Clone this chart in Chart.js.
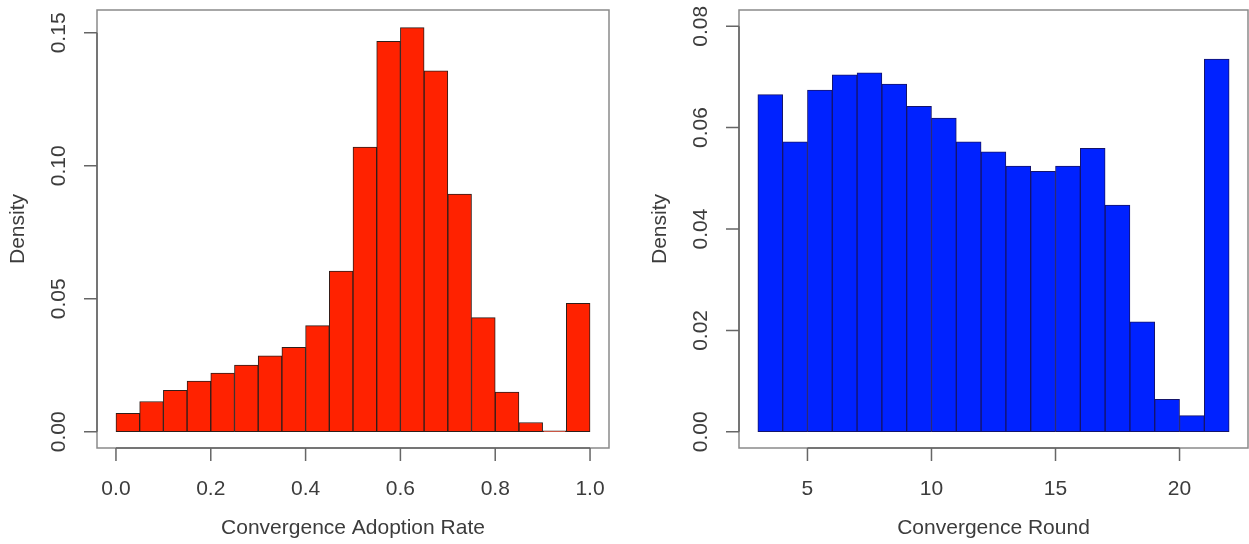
<!DOCTYPE html>
<html>
<head>
<meta charset="utf-8">
<script src="https://cdn.jsdelivr.net/npm/chart.js@4.4.1/dist/chart.umd.min.js"></script>
<style>
  html, body { margin: 0; padding: 0; background: #fff; }
  #wrap { position: relative; width: 1249px; height: 544px; overflow: hidden; }
  canvas { position: absolute; top: 0; }
  #leftChart { left: 0; }
  #rightChart { left: 624px; }
</style>
</head>
<body>
<div id="wrap">
  <canvas id="leftChart" width="624" height="544"></canvas>
  <canvas id="rightChart" width="625" height="544"></canvas>
</div>
<script>
// left histogram: adoption rate, bins of 0.05
const adoptionBinStart = [0.00, 0.05, 0.10, 0.15, 0.20, 0.25, 0.30, 0.35, 0.40, 0.45,
                          0.50, 0.55, 0.60, 0.65, 0.70, 0.75, 0.80, 0.85, 0.90, 0.95];
const adoptionDensity = [0.0069, 0.0114, 0.0156, 0.0191, 0.0221, 0.0251, 0.0286, 0.0318, 0.0399, 0.0604,
                         0.1071, 0.1468, 0.1520, 0.1357, 0.0894, 0.0429, 0.0149, 0.0035, 0.0004, 0.0483];
const adoptionXTicks = [0, 0.2, 0.4, 0.6, 0.8, 1.0];
const adoptionXLabels = ['0.0', '0.2', '0.4', '0.6', '0.8', '1.0'];
const adoptionYTicks = [0, 0.05, 0.10, 0.15];
const adoptionYLabels = ['0.00', '0.05', '0.10', '0.15'];

// right histogram: convergence round, bins of 1
const roundBinStart = [3, 4, 5, 6, 7, 8, 9, 10, 11, 12, 13, 14, 15, 16, 17, 18, 19, 20, 21];
const roundDensity = [0.0665, 0.0572, 0.0674, 0.0704, 0.0708, 0.0686, 0.0642, 0.0619, 0.0572, 0.0552,
                      0.0524, 0.0514, 0.0524, 0.0559, 0.0447, 0.0217, 0.0064, 0.0032, 0.0735];
const roundXTicks = [5, 10, 15, 20];
const roundXLabels = ['5', '10', '15', '20'];
const roundYTicks = [0, 0.02, 0.04, 0.06, 0.08];
const roundYLabels = ['0.00', '0.02', '0.04', '0.06', '0.08'];

const FONT = '21px "Liberation Sans", Arial, sans-serif';
const TEXT_COLOR = '#3c3c3c';

// R-style box + axes drawn from the chart's own scales
const rAxes = {
  id: 'rAxes',
  afterDraw(chart, args, opts) {
    const ctx = chart.ctx;
    const area = chart.chartArea;
    const xs = chart.scales.x;
    const ys = chart.scales.y;
    ctx.save();
    ctx.strokeStyle = '#8a8a8a';
    ctx.lineWidth = 1.5;
    ctx.strokeRect(area.left, area.top, area.right - area.left, area.bottom - area.top);

    ctx.strokeStyle = '#666';
    ctx.lineWidth = 1.5;
    ctx.fillStyle = TEXT_COLOR;
    ctx.font = FONT;
    ctx.textAlign = 'center';
    ctx.textBaseline = 'middle';

    // x axis
    const x0 = xs.getPixelForValue(opts.xTicks[0]);
    const x1 = xs.getPixelForValue(opts.xTicks[opts.xTicks.length - 1]);
    ctx.beginPath();
    ctx.moveTo(x0, area.bottom);
    ctx.lineTo(x1, area.bottom);
    opts.xTicks.forEach((v) => {
      const px = xs.getPixelForValue(v);
      ctx.moveTo(px, area.bottom);
      ctx.lineTo(px, area.bottom + 13);
    });
    ctx.stroke();
    opts.xTicks.forEach((v, i) => {
      ctx.fillText(opts.xLabels[i], xs.getPixelForValue(v), area.bottom + 41);
    });
    ctx.fillText(opts.xTitle, (area.left + area.right) / 2, area.bottom + 80);

    // y axis
    const y0 = ys.getPixelForValue(opts.yTicks[0]);
    const y1 = ys.getPixelForValue(opts.yTicks[opts.yTicks.length - 1]);
    ctx.beginPath();
    ctx.moveTo(area.left, y0);
    ctx.lineTo(area.left, y1);
    opts.yTicks.forEach((v) => {
      const py = ys.getPixelForValue(v);
      ctx.moveTo(area.left, py);
      ctx.lineTo(area.left - 13, py);
    });
    ctx.stroke();
    opts.yTicks.forEach((v, i) => {
      ctx.save();
      ctx.translate(area.left - 38, ys.getPixelForValue(v));
      ctx.rotate(-Math.PI / 2);
      ctx.fillText(opts.yLabels[i], 0, 0);
      ctx.restore();
    });
    ctx.save();
    ctx.translate(area.left - 79, (area.top + area.bottom) / 2);
    ctx.rotate(-Math.PI / 2);
    ctx.fillText('Density', 0, 0);
    ctx.restore();
    ctx.restore();
  }
};

function makeHist(canvasId, starts, values, width, fill, border, xRange, yRange, padding, axisOpts) {
  const points = starts.map((s, i) => ({ x: s + width / 2, y: values[i] }));
  return new Chart(document.getElementById(canvasId), {
    type: 'bar',
    data: {
      datasets: [{
        data: points,
        backgroundColor: fill,
        borderColor: border,
        borderWidth: 1,
        borderSkipped: false,
        barPercentage: 1.0,
        categoryPercentage: 1.0
      }]
    },
    options: {
      responsive: false,
      animation: false,
      layout: { padding: padding },
      plugins: {
        legend: { display: false },
        tooltip: { enabled: false },
        rAxes: axisOpts
      },
      scales: {
        x: { type: 'linear', min: xRange[0], max: xRange[1], display: false, offset: false },
        y: { type: 'linear', min: yRange[0], max: yRange[1], display: false }
      }
    },
    plugins: [rAxes]
  });
}

makeHist('leftChart', adoptionBinStart, adoptionDensity, 0.05, '#ff2200', '#2e1e1a',
  [-0.04, 1.04], [-0.0061, 0.1586],
  { left: 97, top: 10, right: 15, bottom: 96 },
  { xTicks: adoptionXTicks, xLabels: adoptionXLabels, yTicks: adoptionYTicks, yLabels: adoptionYLabels,
    xTitle: 'Convergence Adoption Rate' });

makeHist('rightChart', roundBinStart, roundDensity, 1, '#0022ff', '#14146a',
  [2.24, 22.76], [-0.0032, 0.0832],
  { left: 115, top: 10, right: 1, bottom: 96 },
  { xTicks: roundXTicks, xLabels: roundXLabels, yTicks: roundYTicks, yLabels: roundYLabels,
    xTitle: 'Convergence Round' });
</script>
</body>
</html>
